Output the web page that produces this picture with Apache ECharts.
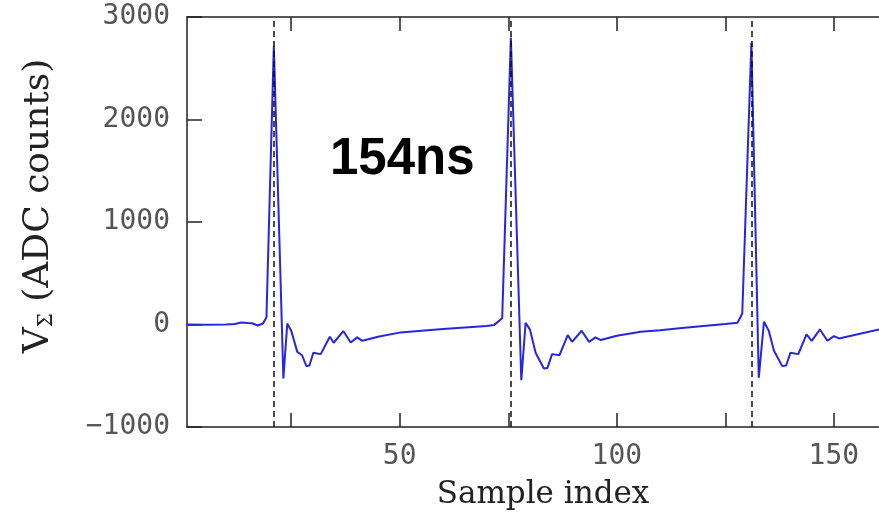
<!DOCTYPE html>
<html>
<head>
<meta charset="utf-8">
<script src="https://cdn.jsdelivr.net/npm/echarts@6/dist/echarts.min.js"></script>
<style>html,body{margin:0;padding:0;background:#fff}#c{width:879px;height:513px}</style>
</head>
<body>
<div id="c"></div>
<script>
// Data
var sampleIdx = [1,5,10,12,13.5,15,16,17.3,18.5,19.3,21,23.2,24.1,25,26.4,27.5,28.5,29.2,30.1,31.8,33.9,34.8,37,38.7,40.2,41.4,45,50.2,55,60,65,70,71.7,73.6,
  75.6,78,79,80,81.3,83.2,84,85.1,86.8,88.7,89.7,91.9,93.6,95.1,96.3,100,105.5,110,115,120,125,127.8,128.9,
  131,132.7,133.9,135,136.2,138.1,139,140,141.8,143.7,144.9,146.8,148.5,150,151.2,155,160.5,165];
var adcCounts = [0,-2,0,5,20,15,12,-10,10,70,2720,-527,10,-60,-267,-300,-406,-400,-276,-289,-120,-178,-64,-175,-126,-159,-120,-77,-60,-45,-30,-15,-6,60,
  2800,-543,17,-50,-276,-430,-425,-289,-299,-104,-169,-61,-169,-126,-152,-110,-71,-55,-35,-15,5,17,108,
  2750,-520,27,-60,-257,-406,-400,-276,-289,-97,-159,-48,-159,-113,-136,-100,-48,-30];
var triggerLines = [21, 75.5, 131];
var xTickValues = [25, 50, 75, 100, 125, 150];
var xLabelValues = [50, 100, 150];
var yMin = -1000, yMax = 3000, yStep = 1000;
var annotation = '154ns';
var xTitle = 'Sample index';

var seriesData = sampleIdx.map(function (x, i) { return [x, adcCounts[i]]; });

var axisColor = '#222';
var labelFont = { fontFamily: 'DejaVu Sans Mono', fontSize: 28, color: '#555' };

var chart = echarts.init(document.getElementById('c'), null, { renderer: 'canvas' });
chart.setOption({
  animation: false,
  backgroundColor: '#fff',
  grid: { left: 187, right: -20, top: 17, bottom: 86, containLabel: false, outerBoundsMode: 'none' },
  xAxis: [{
    type: 'value', position: 'bottom', min: 1, max: 165,
    axisLine: { show: true, onZero: false, lineStyle: { color: axisColor, width: 1.5 } },
    axisTick: { show: true, inside: true, length: 14, customValues: xTickValues, lineStyle: { color: axisColor, width: 1.5 } },
    axisLabel: Object.assign({ show: true, margin: 16, customValues: xLabelValues }, labelFont),
    splitLine: { show: false },
    name: xTitle, nameLocation: 'middle', nameGap: 52,
    nameTextStyle: { fontFamily: 'DejaVu Serif', fontSize: 31, color: '#222' }
  }, {
    type: 'value', position: 'top', min: 1, max: 165,
    axisLine: { show: true, onZero: false, lineStyle: { color: axisColor, width: 1.5 } },
    axisTick: { show: true, inside: true, length: 14, customValues: xTickValues, lineStyle: { color: axisColor, width: 1.5 } },
    axisLabel: { show: false },
    splitLine: { show: false }
  }],
  yAxis: [{
    type: 'value', position: 'left', min: yMin, max: yMax, interval: yStep,
    axisLine: { show: true, onZero: false, lineStyle: { color: axisColor, width: 1.5 } },
    axisTick: { show: true, inside: true, length: 15, lineStyle: { color: axisColor, width: 1.5 } },
    axisLabel: Object.assign({ show: true, margin: 17, padding: [5, 0, 0, 0], formatter: function (v) { return String(v).replace('-', '\u2212'); } }, labelFont),
    splitLine: { show: false },
    name: 'V{sub|\u03A3} (ADC counts)', nameLocation: 'middle', nameGap: 130,
    nameTextStyle: {
      fontFamily: 'DejaVu Serif', fontSize: 36, color: '#222', padding: [0, 0, 0, 32],
      rich: { sub: { fontFamily: 'DejaVu Serif', fontSize: 20, color: '#222', verticalAlign: 'bottom', padding: [16, 0, 0, 0] } }
    }
  }],
  series: [{
    type: 'line', data: seriesData, xAxisIndex: 0, yAxisIndex: 0,
    showSymbol: false, symbol: 'none', smooth: false,
    lineStyle: { color: '#2626e0', width: 2 },
    markLine: {
      silent: true, symbol: 'none', label: { show: false },
      lineStyle: { color: '#111', type: [6, 4], width: 1.5 },
      data: triggerLines.map(function (v) { return { xAxis: v }; })
    }
  }],
  graphic: [{
    type: 'text', left: 330, top: 134,
    style: { text: annotation, font: 'bold 51px "Liberation Sans", Arial, sans-serif', fill: '#000' }
  }]
});
</script>
</body>
</html>
